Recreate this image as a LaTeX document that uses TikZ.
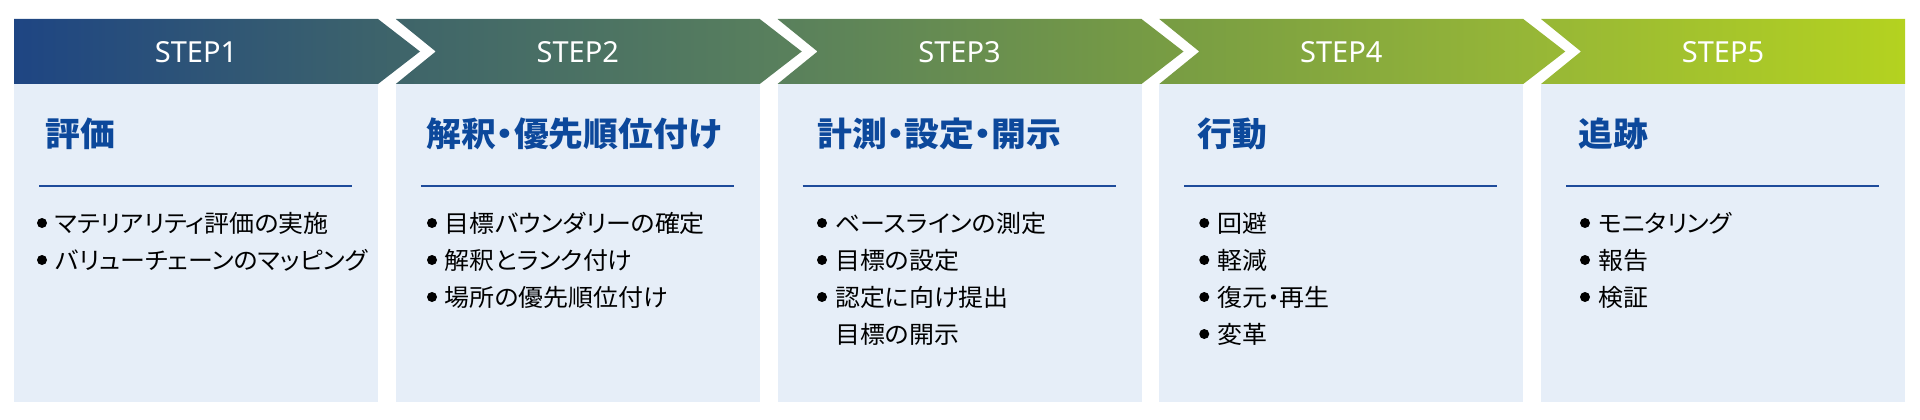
\documentclass[tikz,border=0pt]{standalone}
\usepackage{fontspec}
\setmainfont[RawFeature=+palt, FakeStretch=1.04]{Noto Sans CJK JP}
\newfontfamily\stepfont{Noto Sans}
\definecolor{bodybg}{RGB}{230,238,248}
\definecolor{headblue}{RGB}{12,72,155}
\definecolor{lineblue}{RGB}{30,75,155}
\pgfdeclarehorizontalshading{bannershade}{100bp}{rgb(0bp)=(0.118,0.271,0.514); rgb(25bp)=(0.118,0.271,0.514); rgb(35bp)=(0.243,0.392,0.416); rgb(45bp)=(0.345,0.498,0.365); rgb(55bp)=(0.463,0.608,0.267); rgb(65bp)=(0.588,0.714,0.216); rgb(75bp)=(0.706,0.824,0.125); rgb(100bp)=(0.706,0.824,0.125)}
\tikzset{
  bodybox/.style={fill=bodybg, draw=none, minimum width=364pt, minimum height=318pt, inner sep=0pt},
  steplabel/.style={text=white, font=\stepfont\fontsize{29}{29}\selectfont, inner sep=0pt, text height=20.7pt, text depth=0pt},
  heading/.style={text=headblue, font=\fontsize{33.5}{33.5}\selectfont\bfseries, anchor=west, inner sep=0pt, text height=25pt, text depth=0pt},
  item/.style={text=black, font=\fontsize{24}{24}\selectfont, anchor=west, inner sep=0pt, text height=18.2pt, text depth=0pt},
  sepline/.style={draw=lineblue, line width=1.2pt},
  bul/.style={fill=black}
}
\begin{document}
\begin{tikzpicture}[x=1pt,y=-1pt]
\useasboundingbox (0,0) rectangle (1920,420);
% banner chevrons
\shade[shading=bannershade]
  (14,19) -- (378,19) -- (420,51.5) -- (378,84) -- (14,84) -- cycle
  (395.75,19) -- (759.75,19) -- (801.75,51.5) -- (759.75,84) -- (395.75,84) -- (435.75,51.5) -- cycle
  (777.5,19) -- (1141.5,19) -- (1183.5,51.5) -- (1141.5,84) -- (777.5,84) -- (817.5,51.5) -- cycle
  (1159.25,19) -- (1523.25,19) -- (1565.25,51.5) -- (1523.25,84) -- (1159.25,84) -- (1199.25,51.5) -- cycle
  (1541,19) -- (1905,19) -- (1905,84) -- (1541,84) -- (1581,51.5) -- cycle;
% step labels
\node[steplabel] (s1) at (196,52.5) {STEP1};
\node[steplabel] (s2) at (577.75,52.5) {STEP2};
\node[steplabel] (s3) at (959.5,52.5) {STEP3};
\node[steplabel] (s4) at (1341.25,52.5) {STEP4};
\node[steplabel] (s5) at (1723,52.5) {STEP5};
% body boxes
\node[bodybox] (b1) at (196,243) {};
\node[bodybox] (b2) at (577.75,243) {};
\node[bodybox] (b3) at (959.5,243) {};
\node[bodybox] (b4) at (1341.25,243) {};
\node[bodybox] (b5) at (1723,243) {};
% headings
\node[heading] (h1) at (45,134) {評価};
\node[heading] (h2) at (426.75,134) {解釈・優先順位付け};
\node[heading] (h3) at (817,134) {計測・設定・開示};
\node[heading] (h4) at (1197.25,134) {行動};
\node[heading] (h5) at (1578,134) {追跡};
% separator lines
\draw[sepline] (39,186) -- (352,186);
\draw[sepline] (420.75,186) -- (733.75,186);
\draw[sepline] (802.5,186) -- (1115.5,186);
\draw[sepline] (1184.25,186) -- (1497.25,186);
\draw[sepline] (1566,186) -- (1879,186);
% column 1 items
\node[item] (i11) at (55,223) {マテリアリティ評価の実施};
\node[item] (i12) at (55,260) {バリューチェーンのマッピング};
\fill[bul] (42,223) circle (5);
\fill[bul] (42,260) circle (5);
% column 2 items
\node[item] (i21) at (444.75,223) {目標バウンダリーの確定};
\node[item] (i22) at (444.75,260) {解釈とランク付け};
\node[item] (i23) at (444.75,297) {場所の優先順位付け};
\fill[bul] (432,223) circle (5);
\fill[bul] (432,260) circle (5);
\fill[bul] (432,297) circle (5);
% column 3 items
\node[item] (i31) at (835,223) {ベースラインの測定};
\node[item] (i32) at (835,260) {目標の設定};
\node[item] (i33) at (835,297) {認定に向け提出};
\node[item] (i34) at (835,334) {目標の開示};
\fill[bul] (822,223) circle (5);
\fill[bul] (822,260) circle (5);
\fill[bul] (822,297) circle (5);
% column 4 items
\node[item] (i41) at (1217.25,223) {回避};
\node[item] (i42) at (1217.25,260) {軽減};
\node[item] (i43) at (1217.25,297) {復元・再生};
\node[item] (i44) at (1217.25,334) {変革};
\fill[bul] (1204.25,223) circle (5);
\fill[bul] (1204.25,260) circle (5);
\fill[bul] (1204.25,297) circle (5);
\fill[bul] (1204.25,334) circle (5);
% column 5 items
\node[item] (i51) at (1598,223) {モニタリング};
\node[item] (i52) at (1598,260) {報告};
\node[item] (i53) at (1598,297) {検証};
\fill[bul] (1585,223) circle (5);
\fill[bul] (1585,260) circle (5);
\fill[bul] (1585,297) circle (5);
\end{tikzpicture}
\end{document}
